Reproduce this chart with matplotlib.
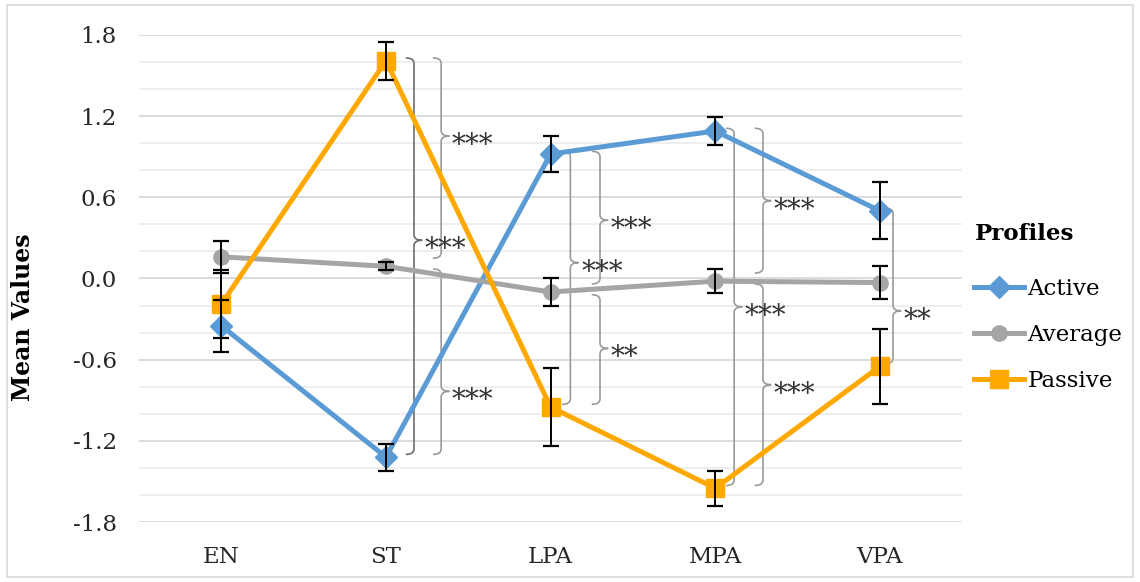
import matplotlib
matplotlib.use("Agg")
import matplotlib.pyplot as plt
from matplotlib.path import Path
from matplotlib.patches import PathPatch, Rectangle
import numpy as np

plt.rcParams['font.family'] = ['DejaVu Serif']

categories = ["EN", "ST", "LPA", "MPA", "VPA"]

active = [-0.35, -1.32, 0.92, 1.09, 0.50]
active_err = [0.19, 0.10, 0.13, 0.10, 0.21]

average = [0.16, 0.09, -0.10, -0.02, -0.03]
average_err = [0.12, 0.03, 0.10, 0.09, 0.12]

passive = [-0.19, 1.61, -0.95, -1.55, -0.65]
passive_err = [0.25, 0.14, 0.29, 0.13, 0.28]

# significance brackets: (category, top series, bottom series, label)
sig = [
    (1, "Passive", "Average", "***"),
    (1, "Passive", "Active", "***"),
    (1, "Average", "Active", "***"),
    (2, "Active", "Passive", "***"),
    (2, "Active", "Average", "***"),
    (2, "Average", "Passive", "**"),
    (3, "Active", "Passive", "***"),
    (3, "Active", "Average", "***"),
    (3, "Average", "Passive", "***"),
    (4, "Active", "Passive", "**"),
]
# where each brace sits (x offset) and where its tip is (fraction from top)
sig_xoff = [0.335, 0.17, 0.335, 0.12, 0.30, 0.30, 0.115, 0.29, 0.29, 0.08]
sig_tip = [0.39, 0.46, 0.66, 0.44, 0.52, 0.49, 0.50, 0.50, 0.50, 0.66]

series = {"Active": active, "Average": average, "Passive": passive}

FS = 16.5

fig = plt.figure(figsize=(11.4, 5.82), dpi=100)
ax = fig.add_axes([0.122, 0.103, 0.722, 0.837])

x = np.arange(len(categories))

styles = [
    ("Active", active, active_err, "#5B9BD5", "D", 11),
    ("Average", average, average_err, "#A5A5A5", "o", 11),
    ("Passive", passive, passive_err, "#FFA800", "s", 13),
]
for name, vals, err, col, mk, ms in styles:
    ax.plot(x, vals, color=col, lw=3.6, marker=mk, markersize=ms,
            label=name, zorder=3)
    ax.errorbar(x, vals, yerr=err, fmt="none", ecolor="black",
                elinewidth=1.4, capsize=6, capthick=1.6, zorder=4)


def brace(ax, xc, top, bot, frac, label, color):
    w = 0.05
    r = 0.04
    tip = top - frac * (top - bot)
    verts = [
        (xc - w, top), (xc, top), (xc, top - r),
        (xc, tip + r),
        (xc, tip), (xc + w, tip),
        (xc + w, tip), (xc, tip), (xc, tip - r),
        (xc, bot + r),
        (xc, bot), (xc - w, bot),
    ]
    codes = [Path.MOVETO, Path.CURVE3, Path.CURVE3,
             Path.LINETO,
             Path.CURVE3, Path.CURVE3,
             Path.MOVETO, Path.CURVE3, Path.CURVE3,
             Path.LINETO,
             Path.CURVE3, Path.CURVE3]
    ax.add_patch(PathPatch(Path(verts, codes), fc="none", ec=color,
                           lw=1.2, zorder=2))
    ax.text(xc + 0.065, tip - 0.125, label, fontsize=20, color="#333333",
            va="baseline", ha="left", zorder=5)


for i, ((ci, a, b, lab), off, fr) in enumerate(zip(sig, sig_xoff, sig_tip)):
    top = series[a][ci]
    bot = series[b][ci]
    if a == "Average":
        top -= 0.04
    if b == "Average":
        bot += 0.04
    col = "#6E6E6E" if i == 1 else "#9A9A9A"
    brace(ax, ci + off, top + 0.02, bot + 0.02, fr, lab, col)

yt = np.arange(-1.8, 1.81, 0.6)
ax.set_xlim(-0.5, 4.5)
ax.set_ylim(-1.8, 1.8)
ax.set_yticks(yt)
ax.set_yticks(np.arange(-1.8, 1.81, 0.2), minor=True)
ax.set_yticklabels([f"{round(v, 1) + 0:.1f}" for v in yt])
ax.set_xticks(x)
ax.set_xticklabels(categories)
ax.grid(axis="y", which="major", color="#D9D9D9", lw=1.3, zorder=0)
ax.grid(axis="y", which="minor", color="#EDEDED", lw=1.3, zorder=0)
ax.set_axisbelow(True)
for s in ax.spines.values():
    s.set_visible(False)
ax.tick_params(axis="both", which="both", length=0, labelsize=FS,
               colors="#262626")
ax.tick_params(axis="y", pad=16)
ax.tick_params(axis="x", pad=17)
ax.set_ylabel("Mean Values", fontsize=17, fontweight="bold")
ax.yaxis.set_label_coords(-0.1265, 0.42)

fig.text(0.855, 0.598, "Profiles", fontsize=FS, fontweight="bold",
         va="center", ha="left")
leg = ax.legend(loc="upper left", bbox_to_anchor=(0.84, 0.55),
                bbox_transform=fig.transFigure, frameon=False,
                fontsize=FS, handlelength=2.2, labelspacing=1.05,
                handletextpad=0.15, borderpad=0.2)

fig.patches.append(Rectangle((0.006, 0.008), 0.988, 0.984,
                             transform=fig.transFigure, fill=False,
                             ec="#D9D9D9", lw=1.2))

fig.savefig("out.png", dpi=100)
